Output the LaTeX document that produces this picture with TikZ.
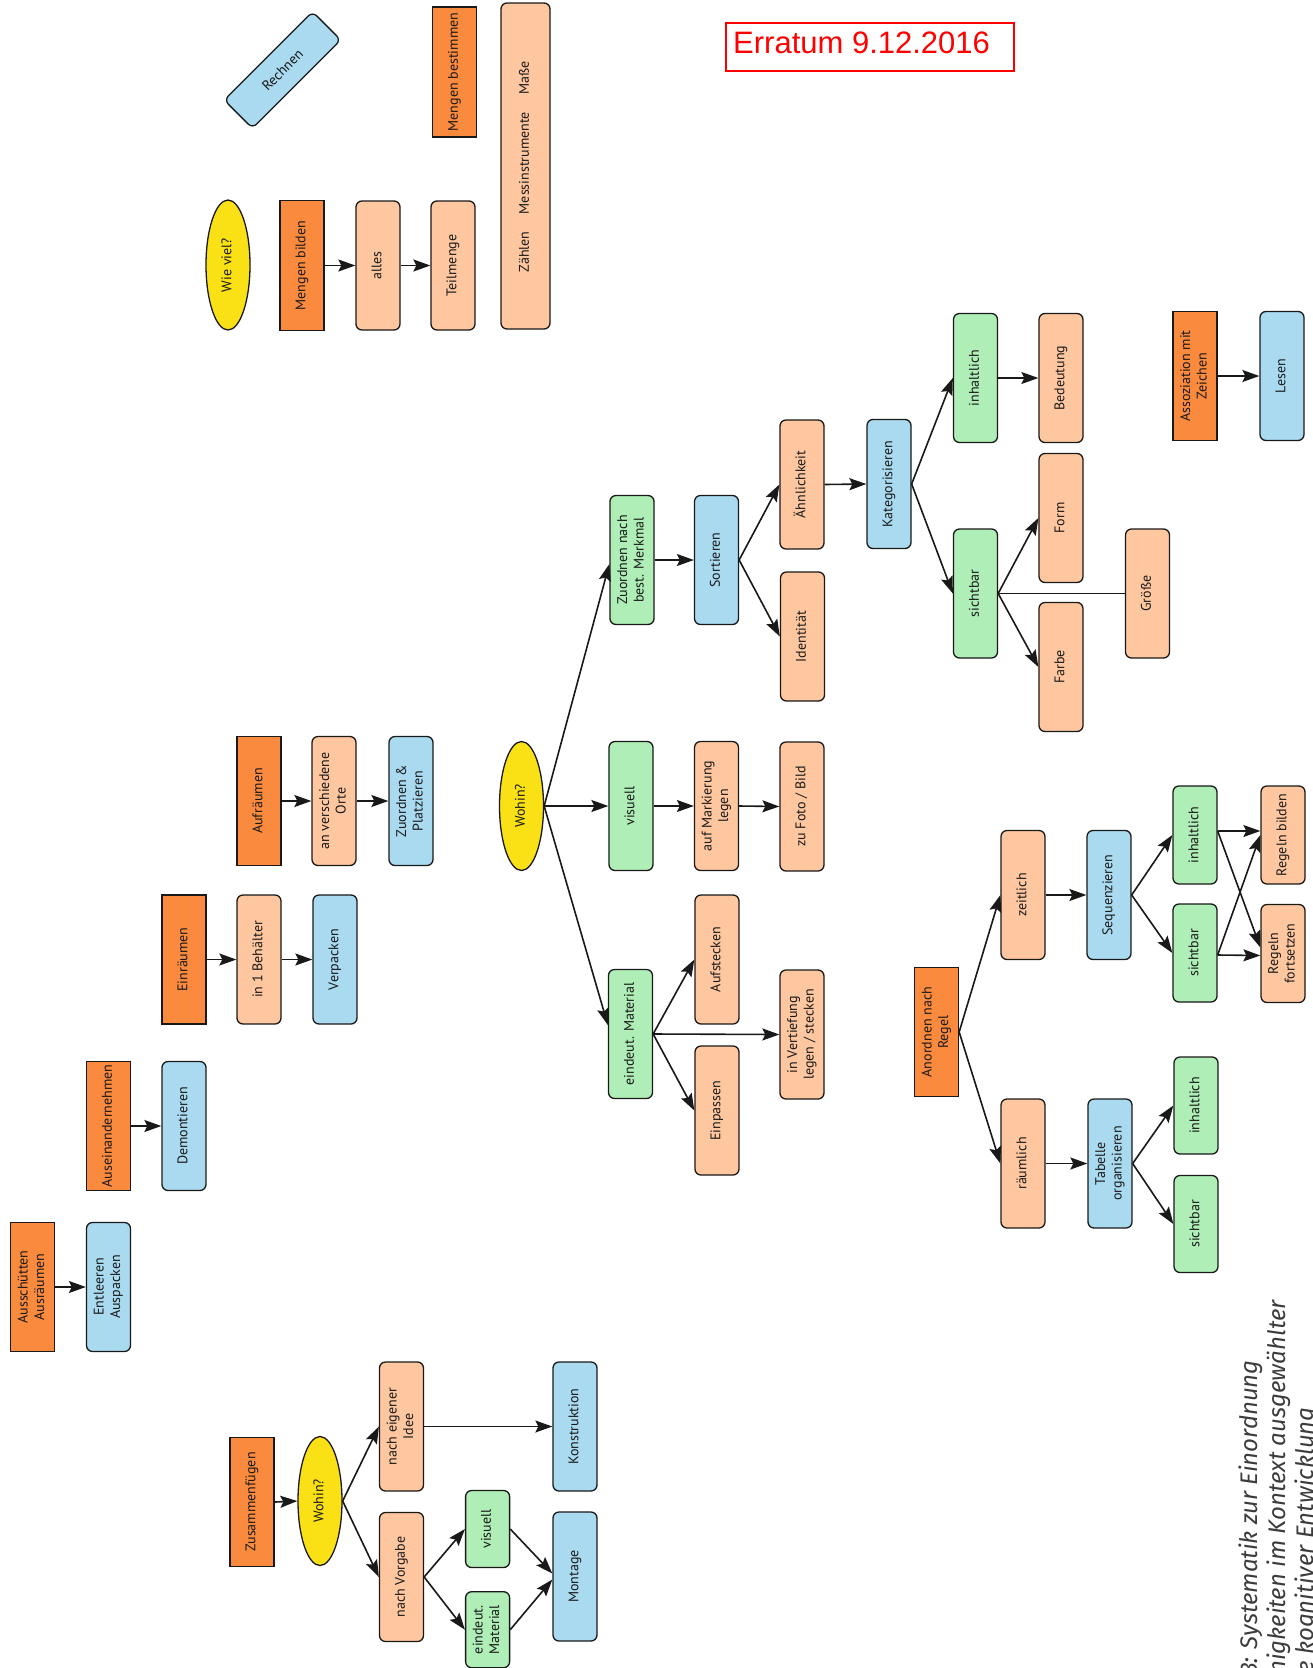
\documentclass[tikz,border=0pt]{standalone}
\usepackage{fontspec}
\setmainfont{PT Sans}
\newfontfamily\errfont{Liberation Sans}
\newfontfamily\capfont{Fira Sans}
\usetikzlibrary{shapes.geometric,arrows.meta}
\definecolor{cOrange}{RGB}{250,138,62}
\definecolor{cPeach}{RGB}{255,199,160}
\definecolor{cBlue}{RGB}{170,218,240}
\definecolor{cGreen}{RGB}{175,238,182}
\definecolor{cYellow}{RGB}{250,225,22}
\definecolor{cLine}{RGB}{25,25,25}
\definecolor{cCap}{RGB}{60,60,60}
\newcommand{\rt}[1]{\rotatebox{90}{\begin{tabular}{@{}c@{}}#1\end{tabular}}}
\tikzset{
  nbox/.style={draw=cLine, line width=1.3pt, minimum width=44pt, minimum height=129pt,
    inner sep=0pt, font=\fontsize{14pt}{16.5pt}\selectfont, text=cLine},
  obox/.style={nbox, fill=cOrange},
  pbox/.style={nbox, fill=cPeach, rounded corners=6pt},
  bbox/.style={nbox, fill=cBlue, rounded corners=6pt},
  gbox/.style={nbox, fill=cGreen, rounded corners=6pt},
  ybox/.style={nbox, ellipse, fill=cYellow},
  ntxt/.style={inner sep=0pt, font=\fontsize{14pt}{16.5pt}\selectfont, text=cLine},
  arr/.style={line width=1.6pt, draw=cLine, -{Stealth[length=17pt,width=12pt,inset=3pt]}},
  plainln/.style={line width=1.6pt, draw=cLine},
  captxt/.style={inner sep=0pt, text=cCap, font=\capfont\itshape\fontsize{24pt}{28pt}\selectfont},
}
\begin{document}
\begin{tikzpicture}[x=1pt,y=-1pt]
\useasboundingbox (0,0) rectangle (1312,1668);
\fill[white] (0,0) rectangle (1312,1668);

% Erratum
\node[draw=red, line width=2pt, minimum width=288pt, minimum height=48pt, inner sep=0pt] (errbox) at (870,47) {};
\node[anchor=base west, inner sep=0pt, text=red, font=\errfont\fontsize{31pt}{36pt}\selectfont] (errtext) at (733,53) {Erratum 9.12.2016};

% top cluster
\node[bbox, minimum width=125pt, minimum height=40pt, rotate=45] (rechnen) at (282.5,70) {Rechnen};
\node[obox, minimum height=130pt] (mbest) at (454.5,72) {\rt{Mengen bestimmen}};
\node[pbox, minimum width=49pt, minimum height=326pt] (mess) at (525.5,166) {};
\node[ntxt] (mz) at (525.5,252) {\rt{Zählen}};
\node[ntxt] (mm) at (525.5,163) {\rt{Messinstrumente}};
\node[ntxt] (mb) at (525.5,78) {\rt{Maße}};
\node[ybox, minimum height=130pt] (wieviel) at (228,265) {\rt{Wie viel?}};
\node[obox, minimum height=130pt] (mbild) at (302,265.5) {\rt{Mengen bilden}};
\node[pbox] (alles) at (378,265.5) {\rt{alles}};
\node[pbox] (teil) at (453,265.5) {\rt{Teilmenge}};

% left clusters
\node[obox] (aufr) at (259,801) {\rt{Aufräumen}};
\node[pbox] (avo) at (334,801) {\rt{an verschiedene\\Orte}};
\node[bbox] (zup) at (411,801) {\rt{Zuordnen \&\\Platzieren}};
\node[obox] (einr) at (184,959.5) {\rt{Einräumen}};
\node[pbox] (inb) at (259,959.5) {\rt{in 1 Behälter}};
\node[bbox] (verp) at (335,959.5) {\rt{Verpacken}};
\node[obox] (ausein) at (108.5,1126) {\rt{Auseinandernehmen}};
\node[bbox] (demont) at (184,1126) {\rt{Demontieren}};
\node[obox] (aussch) at (32.5,1287) {\rt{Ausschütten\\Ausräumen}};
\node[bbox] (entl) at (108.5,1287) {\rt{Entleeren\\Auspacken}};

% Zusammenfuegen cluster
\node[obox] (zus) at (252,1502) {\rt{Zusammenfügen}};
\node[ybox] (wohinZ) at (320,1501) {\rt{Wohin?}};
\node[pbox] (neI) at (401.5,1426.5) {\rt{nach eigener\\Idee}};
\node[pbox] (nVo) at (401.5,1577) {\rt{nach Vorgabe}};
\node[gbox, minimum height=77pt] (visZ) at (487.6,1529) {\rt{visuell}};
\node[gbox, minimum height=76pt] (eMZ) at (487.6,1629.7) {\rt{eindeut.\\Material}};
\node[bbox] (konst) at (575,1426.5) {\rt{Konstruktion}};
\node[bbox] (mont) at (575,1576.5) {\rt{Montage}};

% middle cluster
\node[ybox] (wohin) at (521.5,806) {\rt{Wohin?}};
\node[gbox] (zuord) at (632,560) {\rt{Zuordnen nach\\best. Merkmal}};
\node[gbox] (visM) at (631,806) {\rt{visuell}};
\node[gbox] (eindM) at (630.5,1034) {\rt{eindeut. Material}};
\node[bbox] (sort) at (716.5,560) {\rt{Sortieren}};
\node[pbox] (aufM) at (716.5,806) {\rt{auf Markierung\\legen}};
\node[pbox] (aufst) at (717,959.5) {\rt{Aufstecken}};
\node[pbox] (einp) at (717,1110.5) {\rt{Einpassen}};
\node[pbox] (aehn) at (802,484.5) {\rt{Ähnlichkeit}};
\node[pbox] (ident) at (802.5,636.5) {\rt{Identität}};
\node[pbox] (foto) at (802,806.5) {\rt{zu Foto / Bild}};
\node[pbox] (vert) at (802,1034.5) {\rt{in Vertiefung\\legen / stecken}};
\node[bbox] (kat) at (889,484) {\rt{Kategorisieren}};
\node[gbox] (inhK) at (975.5,378) {\rt{inhaltlich}};
\node[gbox] (sichtK) at (975.5,593.5) {\rt{sichtbar}};
\node[pbox] (bed) at (1061,378) {\rt{Bedeutung}};
\node[pbox] (form) at (1061,518) {\rt{Form}};
\node[pbox] (farbe) at (1061,667) {\rt{Farbe}};
\node[pbox] (groesse) at (1147.5,593.5) {\rt{Größe}};
\node[obox] (asso) at (1195,376) {\rt{Assoziation mit\\Zeichen}};
\node[bbox] (lesen) at (1282,376) {\rt{Lesen}};

% Regel cluster
\node[obox] (anord) at (936.5,1032) {\rt{Anordnen nach\\Regel}};
\node[pbox] (zeit) at (1023,895) {\rt{zeitlich}};
\node[pbox] (raeum) at (1023,1163.5) {\rt{räumlich}};
\node[bbox] (seq) at (1109,895) {\rt{Sequenzieren}};
\node[bbox] (tab) at (1110,1163.5) {\rt{Tabelle\\organisieren}};
\node[gbox, minimum height=98pt] (inhR) at (1195,835) {\rt{inhaltlich}};
\node[gbox, minimum height=98pt] (sichtR) at (1195,953) {\rt{sichtbar}};
\node[pbox, minimum height=98pt] (rb) at (1283,835) {\rt{Regeln bilden}};
\node[pbox, minimum height=98pt] (rf) at (1283,953.5) {\rt{Regeln\\fortsetzen}};
\node[gbox, minimum height=97pt] (inhR2) at (1196,1105.5) {\rt{inhaltlich}};
\node[gbox, minimum height=97pt] (sichtR2) at (1196,1224) {\rt{sichtbar}};

% connectors
\draw[arr] (mbild.east) -- (alles.west);
\draw[arr] (alles.east) -- (teil.west);
\draw[arr] (aufr.east) -- (avo.west);
\draw[arr] (avo.east) -- (zup.west);
\draw[arr] (einr.east) -- (inb.west);
\draw[arr] (inb.east) -- (verp.west);
\draw[arr] (ausein.east) -- (demont.west);
\draw[arr] (aussch.east) -- (entl.west);
\draw[arr] (zus.east) -- (wohinZ.west);
\draw[arr] (wohinZ.east) -- (neI.west);
\draw[arr] (wohinZ.east) -- (nVo.west);
\draw[arr] (neI.east) -- (konst.west);
\draw[arr] (nVo.east) -- (visZ.west);
\draw[arr] (nVo.east) -- (eMZ.west);
\draw[arr] (visZ.east) -- ([yshift=3pt]mont.west);
\draw[arr] (eMZ.east) -- ([yshift=-3pt]mont.west);
\draw[arr] (wohin.east) -- ([yshift=-4pt]zuord.west);
\draw[arr] (wohin.east) -- (visM.west);
\draw[arr] (wohin.east) -- ([yshift=9pt]eindM.west);
\draw[arr] (zuord.east) -- (sort.west);
\draw[arr] (sort.east) -- (aehn.west);
\draw[arr] (sort.east) -- (ident.west);
\draw[arr] (aehn.east) -- (kat.west);
\draw[arr] (visM.east) -- (aufM.west);
\draw[arr] (aufM.east) -- (foto.west);
\draw[arr] (eindM.east) -- (aufst.west);
\draw[arr] (eindM.east) -- (vert.west);
\draw[arr] (eindM.east) -- (einp.west);
\draw[arr] (kat.east) -- (inhK.west);
\draw[arr] (kat.east) -- (sichtK.west);
\draw[arr] (inhK.east) -- (bed.west);
\draw[arr] (sichtK.east) -- (form.west);
\draw[arr] (sichtK.east) -- (farbe.west);
\draw[plainln] (sichtK.east) -- (groesse.west);
\draw[arr] (asso.east) -- (lesen.west);
\draw[arr] (anord.east) -- (zeit.west);
\draw[arr] (anord.east) -- (raeum.west);
\draw[arr] (zeit.east) -- (seq.west);
\draw[arr] (seq.east) -- (inhR.west);
\draw[arr] (seq.east) -- (sichtR.west);
\draw[arr] ([yshift=4pt]inhR.east) -- ([yshift=4pt]rb.west);
\draw[arr] ([yshift=4pt]inhR.east) -- ([yshift=6pt]rf.west);
\draw[arr] ([yshift=-2pt]sichtR.east) -- (rb.west);
\draw[arr] ([yshift=-2pt]sichtR.east) -- ([yshift=-2pt]rf.west);
\draw[arr] (raeum.east) -- (tab.west);
\draw[arr] (tab.east) -- (inhR2.west);
\draw[arr] (tab.east) -- (sichtR2.west);

% caption (clipped by the page edge)
\begin{scope}
\clip (0,0) rectangle (1312,1668);
\node[captxt, rotate=90, anchor=base east] (cap1) at (1257,1360) {3: Systematik zur Einordnung};
\node[captxt, rotate=90, anchor=base east] (cap2) at (1285,1300) {higkeiten im Kontext ausgewählter};
\node[captxt, rotate=90, anchor=base east] (cap3) at (1313,1407) {e kognitiver Entwicklung};
\end{scope}
\end{tikzpicture}
\end{document}
